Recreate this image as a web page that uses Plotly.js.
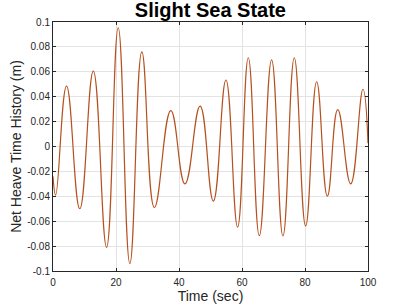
<!DOCTYPE html>
<html>
<head>
<meta charset="utf-8">
<script src="https://cdn.plot.ly/plotly-3.0.1.min.js"></script>
<style>html,body{margin:0;padding:0;background:#fff;}#chart{width:407px;height:305px;}</style>
</head>
<body>
<div id="chart"></div>
<script>
// Extrema (time in sec, heave in m)
const timeSec = [0, 0.85, 4.3, 8.5, 12.8, 17.0, 20.7, 24.4, 28.2, 32.2, 37.4, 41.9, 46.7, 50.9, 54.9, 58.6, 62.0, 65.5, 69.4, 73.0, 76.6, 80.2, 83.7, 87.1, 90.4, 94.5, 98.4, 100];
const heave   = [-0.024, -0.039, 0.0486, -0.050, 0.0606, -0.081, 0.0954, -0.094, 0.076, -0.049, 0.0288, -0.030, 0.0325, -0.0438, 0.0534, -0.0647, 0.0713, -0.0716, 0.0695, -0.0719, 0.0713, -0.0638, 0.052, -0.0398, 0.0296, -0.030, 0.046, 0.0026];
const xTicks = [0, 20, 40, 60, 80, 100];
const yTicks = [-0.1, -0.08, -0.06, -0.04, -0.02, 0, 0.02, 0.04, 0.06, 0.08, 0.1];

const font = "Liberation Sans, Arial, Helvetica, sans-serif";
const trace = {
  x: timeSec, y: heave, type: 'scatter', mode: 'lines',
  line: {color: '#B5501F', width: 1.2, shape: 'spline', smoothing: 1.3},
  hoverinfo: 'none'
};
const axisCommon = {
  showline: true, linecolor: '#262626', linewidth: 1, mirror: 'ticks',
  ticks: 'inside', ticklen: 3, tickcolor: '#262626',
  showgrid: true, gridcolor: '#E3E3E3', gridwidth: 1,
  zeroline: false, tickfont: {family: font, size: 10, color: '#262626'}
};
const layout = {
  width: 407, height: 305,
  margin: {l: 53, r: 39, t: 22, b: 34},
  paper_bgcolor: '#fff', plot_bgcolor: '#fff',
  showlegend: false,
  title: {text: '<b>Slight Sea State</b>', font: {family: font, size: 20, color: '#000'}, x: 0.517, xanchor: 'center', y: 0.967, yanchor: 'middle'},
  xaxis: Object.assign({}, axisCommon, {range: [0, 100], tickvals: xTicks, ticktext: xTicks.map(String), ticklabelstandoff: 2,
    title: {text: 'Time (sec)', font: {family: font, size: 14, color: '#262626'}, standoff: 3}}),
  yaxis: Object.assign({}, axisCommon, {range: [-0.1, 0.1], tickvals: yTicks, ticktext: yTicks.map(v => String(v)),
    title: {text: 'Net Heave Time History (m)', font: {family: font, size: 14, color: '#262626'}, standoff: 2}})
};
Plotly.newPlot('chart', [trace], layout, {staticPlot: true, displayModeBar: false});
</script>
</body>
</html>
